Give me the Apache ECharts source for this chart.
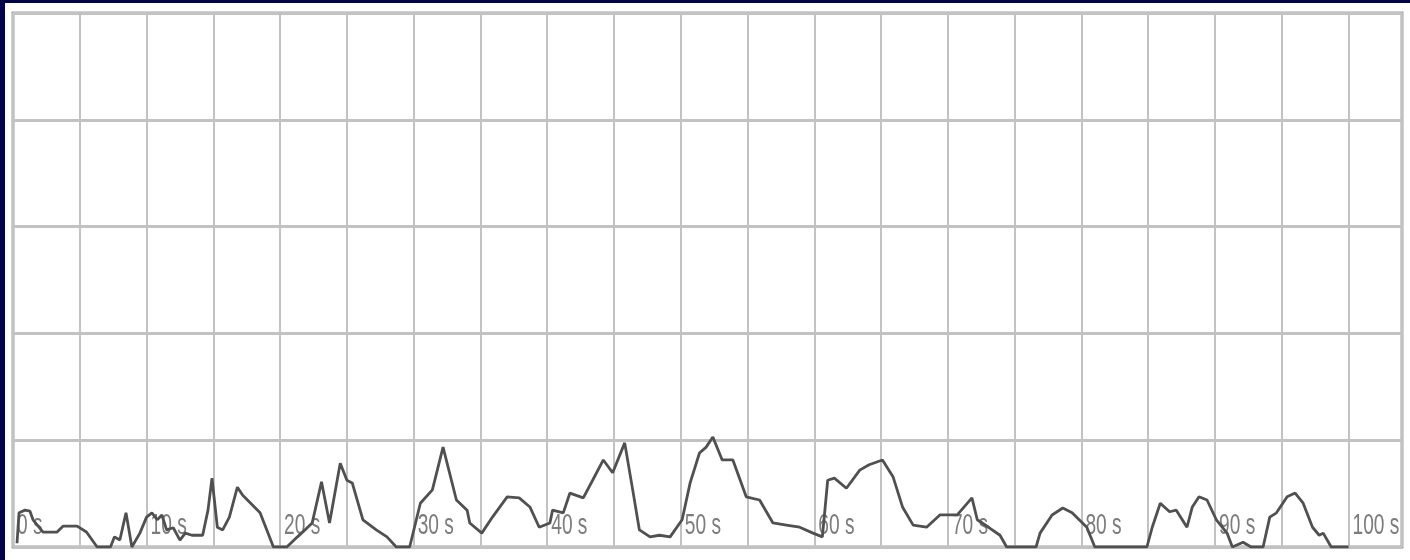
<!DOCTYPE html>
<html>
<head>
<meta charset="utf-8">
<script src="https://cdn.jsdelivr.net/npm/echarts@6/dist/echarts.min.js"></script>
<style>
  html, body { margin: 0; padding: 0; background: #03034a; width: 1410px; height: 560px; overflow: hidden; }
  #chart { position: absolute; left: 5px; top: 3px; width: 1405px; height: 557px; background: #ffffff; }
</style>
</head>
<body>
<div id="chart"></div>
<script>
// time in seconds
const times = [0.3, 0.45, 0.9, 1.27, 1.5, 2.25, 3.3, 3.74, 4.8, 5.5, 6.3, 7.3, 7.6, 8.0, 8.46, 8.9, 9.5, 10.0, 10.4, 10.8, 11.15, 11.5, 12.0, 12.5, 12.9, 13.4, 14.2, 14.6, 14.9, 15.3, 15.7, 16.2, 16.8, 17.2, 18.5, 19.5, 20.5, 21.3, 21.7, 22.4, 23.1, 23.7, 24.5, 25.0, 25.4, 26.2, 27.2, 28.0, 28.7, 29.7, 30.5, 31.4, 32.2, 33.2, 34.0, 34.2, 35.1, 35.9, 37.0, 37.9, 38.7, 39.4, 40.2, 40.4, 41.2, 41.7, 42.7, 43.4, 44.2, 44.9, 45.8, 46.4, 46.9, 47.7, 48.4, 49.2, 50.1, 50.7, 51.4, 51.9, 52.4, 53.1, 53.9, 54.9, 55.9, 56.9, 57.9, 58.9, 59.9, 60.6, 61.0, 61.5, 62.4, 63.4, 64.1, 65.1, 65.9, 66.6, 67.4, 68.4, 69.4, 70.7, 71.8, 72.2, 73.1, 73.9, 74.4, 76.6, 76.9, 77.8, 78.6, 79.3, 80.4, 81.0, 84.9, 85.3, 85.9, 86.6, 87.1, 87.9, 88.3, 88.8, 89.4, 90.1, 90.9, 91.3, 92.1, 92.7, 93.6, 94.1, 94.6, 95.4, 96.0, 96.6, 97.3, 97.8, 98.1, 98.7, 100.0];
// signal level
const values = [0.7, 6.4, 6.9, 6.7, 5.1, 2.8, 2.8, 3.9, 3.9, 2.8, 0, 0, 1.9, 1.3, 6.4, 0, 2.6, 5.6, 6.4, 5.1, 6.0, 3.2, 3.6, 1.3, 2.6, 2.2, 2.2, 6.9, 12.9, 3.7, 3.2, 5.6, 11.2, 9.7, 6.4, 0, 0, 1.9, 2.8, 4.5, 12.2, 4.5, 15.7, 12.5, 12.0, 5.1, 3.2, 1.9, 0, 0, 8.2, 10.7, 18.7, 8.8, 6.9, 4.5, 2.6, 5.6, 9.4, 9.2, 7.5, 3.7, 4.5, 6.9, 6.4, 10.1, 9.2, 12.5, 16.3, 13.9, 19.5, 10.7, 3.2, 1.9, 2.2, 1.9, 5.1, 12.0, 17.6, 18.7, 20.6, 16.3, 16.3, 9.4, 8.8, 4.5, 4.1, 3.7, 2.6, 1.9, 12.5, 12.9, 11.0, 14.4, 15.4, 16.3, 13.1, 7.5, 4.1, 3.7, 6.0, 6.0, 9.2, 5.1, 3.6, 2.2, 0, 0, 2.6, 6.0, 7.3, 6.4, 3.7, 0, 0, 3.7, 8.2, 6.6, 6.9, 3.7, 7.5, 9.4, 8.8, 5.1, 2.6, 0, 0.9, 0, 0, 5.6, 6.4, 9.4, 10.1, 8.2, 3.7, 2.2, 2.6, 0, 0];
// axis settings
const xMin = 0, xMax = 104, xStep = 5, unit = ' s';
const yMin = 0, yMax = 100, yStep = 20;
// tick labels shown on the time axis
const tickValues = [0, 10, 20, 30, 40, 50, 60, 70, 80, 90, 100];

const points = times.map((t, i) => [t, values[i]]);

const chart = echarts.init(document.getElementById('chart'), null, { renderer: 'canvas' });
chart.setOption({
  animation: false,
  backgroundColor: '#ffffff',
  grid: {
    left: 8, top: 10, width: 1389, height: 534,
    outerBoundsMode: 'none', containLabel: false,
    show: true, borderColor: '#a2a2a2', borderWidth: 3, backgroundColor: 'transparent'
  },
  xAxis: {
    type: 'value', min: xMin, max: xMax, interval: xStep,
    axisLine: { show: false }, axisTick: { show: false },
    splitLine: { show: true, lineStyle: { color: '#c2c2c2', width: 2 } },
    axisLabel: { show: false }
  },
  yAxis: {
    type: 'value', min: yMin, max: yMax, interval: yStep,
    axisLine: { show: false }, axisTick: { show: false }, axisLabel: { show: false },
    splitLine: { show: true, lineStyle: { color: '#c2c2c2', width: 3 } }
  },
  series: [{
    type: 'line', data: points, showSymbol: false, smooth: false,
    lineStyle: { color: '#505050', width: 2.8 }, z: 3
  }]
});

// condensed tick labels, positioned through the axis scale
const labelEls = tickValues.map(v => {
  const p = chart.convertToPixel({ xAxisIndex: 0, yAxisIndex: 0 }, [v, yMin]);
  return {
    type: 'text', x: p[0] + 4, y: p[1] - 7, scaleX: 0.66, z: 2, silent: true,
    style: {
      text: v + unit,
      fontFamily: '"Liberation Sans", Arial, sans-serif',
      fontSize: 29, fill: '#7c7c7c',
      align: 'left', verticalAlign: 'bottom'
    }
  };
});
chart.setOption({ graphic: labelEls });
</script>
</body>
</html>
